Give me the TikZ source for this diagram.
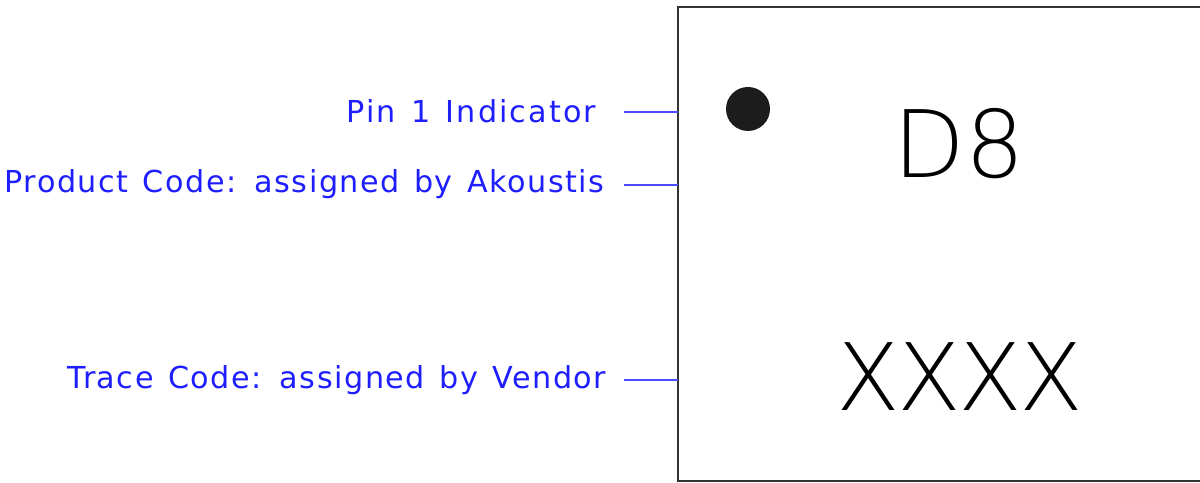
\documentclass[tikz,border=0pt]{standalone}
\usepackage{fontspec}
\setmainfont{DejaVu Sans}
\newfontfamily\labelfont{DejaVu Sans}[LetterSpace=5,WordSpace=1.3]
\newcommand\marksize{26.5pt}
\newcommand\xtrack{-3}
\IfFontExistsTF{DejaVu Sans ExtraLight}
  {\newfontfamily\markfont{DejaVu Sans ExtraLight}}
  {\IfFontExistsTF{Fira Sans Light}
    {\newfontfamily\markfont{Fira Sans Light}[LetterSpace=8]\renewcommand\marksize{28pt}\renewcommand\xtrack{8}}
    {\IfFontExistsTF{Lato Light}
      {\newfontfamily\markfont{Lato Light}[LetterSpace=8]\renewcommand\marksize{27pt}\renewcommand\xtrack{8}}
      {\newfontfamily\markfont{DejaVu Sans}}}}
\definecolor{labelblue}{RGB}{30,30,255}
\definecolor{leaderblue}{RGB}{75,75,255}
\definecolor{dotgrey}{RGB}{28,28,28}
\begin{document}
\begin{tikzpicture}[
  lbl/.style={font=\labelfont\fontsize{8.6pt}{10pt}\selectfont, text=labelblue, inner sep=0pt, anchor=base east},
  marktext/.style={font=\markfont\fontsize{\marksize}{30pt}\selectfont, text=black, inner sep=0pt, anchor=base},
  leader/.style={draw=leaderblue, line width=0.75pt},
  outline/.style={draw=black!80, line width=0.6pt}
]
\useasboundingbox (0,0) rectangle (12,4.83);
\clip (0,0) rectangle (12,4.83);
% package outline (right side lies outside the picture)
\coordinate (tl) at (6.78,4.76);
\coordinate (bl) at (6.78,0.02);
\draw[outline] (12.2,4.76) -- (tl) -- (bl) -- (12.2,0.02);
% pin 1 dot
\node[circle, fill=dotgrey, minimum size=0.44cm, inner sep=0pt] (dot) at (7.48,3.74) {};
% markings
\node[marktext] (d8) at (9.59,3.05) {D8};
\node[marktext] (xxxx) at (9.60,0.72) {\addfontfeature{LetterSpace=\xtrack}XXXX};
% labels
\node[lbl] (pin) at (5.97,3.60) {\addfontfeature{LetterSpace=7}Pin 1 Indicator};
\node[lbl] (prod) at (6.05,2.90) {Product Code: assigned by Akoustis};
\node[lbl] (trace) at (6.07,0.94) {Trace Code: assigned by Vendor};
% leaders
\coordinate (pinS) at (6.24,3.71);
\coordinate (pinE) at (6.78,3.71);
\coordinate (prodS) at (6.24,2.98);
\coordinate (prodE) at (6.78,2.98);
\coordinate (traceS) at (6.24,1.03);
\coordinate (traceE) at (6.78,1.03);
\draw[leader] (pinS) -- (pinE);
\draw[leader] (prodS) -- (prodE);
\draw[leader] (traceS) -- (traceE);
\end{tikzpicture}
\end{document}
